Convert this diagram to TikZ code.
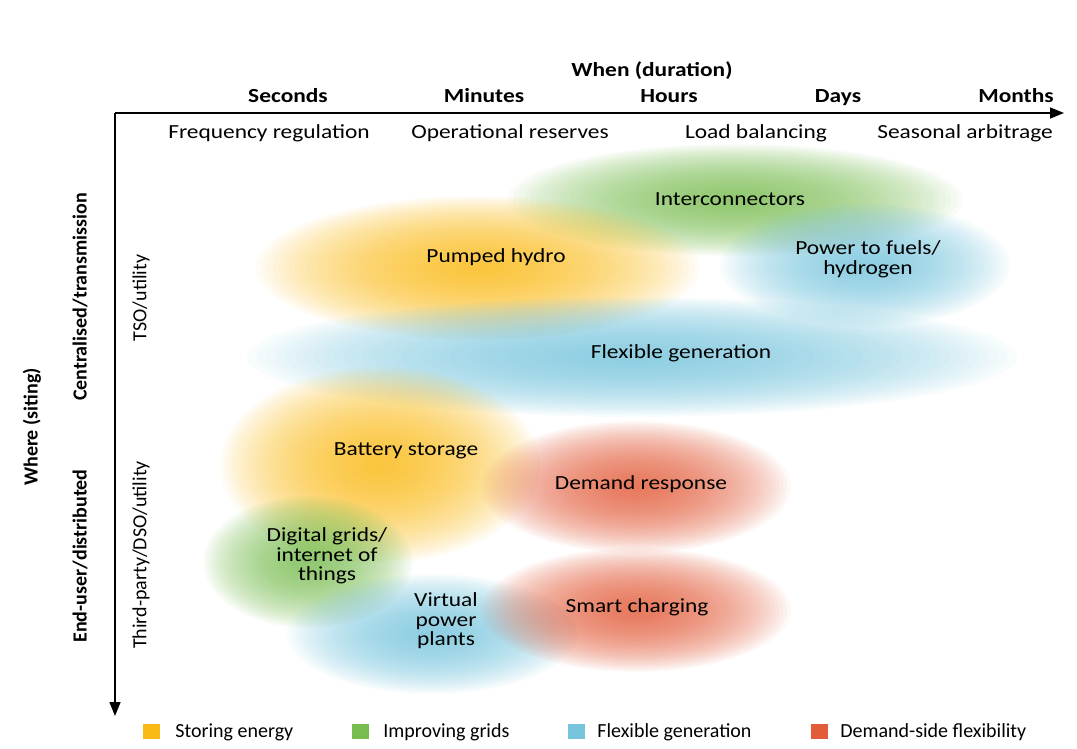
\documentclass[tikz,border=0pt]{standalone}
\usepackage{fontspec}
\setmainfont[FakeStretch=1.17]{Carlito}
\newfontfamily\plainf{Carlito}
\usetikzlibrary{arrows.meta}
\newcommand{\px}{0.5pt}

% soft blob: stack of faint ellipses, densest at the centre
\newcommand{\blob}[5]{%
  \foreach \k in {0,...,39}
    \fill[#1, opacity=0.042] (#2,#3) ellipse ({#4*(1-\k/40)} and {#5*(1-\k/40)});
}

\definecolor{storeC}{RGB}{250,185,20}
\definecolor{gridC}{RGB}{120,188,80}
\definecolor{flexC}{RGB}{118,196,220}
\definecolor{demandC}{RGB}{226,92,58}

\begin{document}
\begin{tikzpicture}[x=\px, y=-\px,
    lbl/.style={font=\fontsize{10}{9.8}\selectfont, align=center, inner sep=0pt},
    head/.style={font=\bfseries\fontsize{10}{12}\selectfont, anchor=base, inner sep=0pt},
    side/.style={font=\plainf\bfseries\fontsize{10}{12}\selectfont, rotate=90, inner sep=0pt},
    sub/.style={font=\plainf\fontsize{10}{12}\selectfont, rotate=90, inner sep=0pt},
    key/.style={font=\plainf\fontsize{10}{12}\selectfont, anchor=west, inner sep=0pt},
    axis/.style={line width=0.75pt, -{Triangle[length=7pt,width=5.5pt]}}]
    \useasboundingbox (0,0) rectangle (1077,749);

    % Blobs
    \blob{gridC}{735}{200}{228}{56}
    \blob{storeC}{478}{268}{222}{72}
    \blob{flexC}{865}{265}{145}{62}
    \blob{flexC}{632}{357}{385}{60}
    \blob{storeC}{380}{465}{160}{98}
    \blob{demandC}{636}{487}{155}{66}
    \blob{gridC}{308}{562}{105}{66}
    \blob{flexC}{432}{634}{145}{60}
    \blob{demandC}{636}{610}{155}{62}

    % Axes
    \coordinate (origin) at (115,113);
    \coordinate (xend) at (1064,113);
    \coordinate (yend) at (115,716);
    \draw[axis] (origin) -- (xend);
    \draw[axis] (origin) -- (yend);

    % When
    \node[head] (when) at (652,77) {When (duration)};
    \node[head] (t-1) at (288,102.5) {Seconds};
    \node[head] (t-2) at (484,102.5) {Minutes};
    \node[head] (t-3) at (669,102.5) {Hours};
    \node[head] (t-4) at (838,102.5) {Days};
    \node[head] (t-5) at (1016,102.5) {Months};

    \node[lbl] (use-1) at (269,133) {Frequency regulation};
    \node[lbl] (use-2) at (510,133) {Operational reserves};
    \node[lbl] (use-3) at (756,133) {Load balancing};
    \node[lbl] (use-4) at (965,133) {Seasonal arbitrage};

    % Where
    \node[side] (where) at (32,427) {Where (siting)};
    \node[side] (site-1) at (80,297) {Centralised/transmission};
    \node[side] (site-2) at (80,556) {End-user/distributed};
    \node[sub] (who-1) at (141,298) {TSO/utility};
    \node[sub] (who-2) at (141,555) {Third-party/DSO/utility};

    % Options
    \node[lbl] (inter) at (730,199) {Interconnectors};
    \node[lbl] (pumped) at (496,257) {Pumped hydro};
    \node[lbl] (fuels) at (868,259) {Power to fuels/\\hydrogen};
    \node[lbl] (flexgen) at (681,353) {Flexible generation};
    \node[lbl] (battery) at (406,451) {Battery storage};
    \node[lbl] (demand) at (641,484) {Demand response};
    \node[lbl] (digital) at (327,556) {Digital grids/\\internet of\\things};
    \node[lbl] (virtual) at (446,621) {Virtual\\power\\plants};
    \node[lbl] (smart) at (637,607) {Smart charging};

    % Legend
    \fill[storeC] (143,724) rectangle (160,739);
    \node[key] (key-1) at (175,732) {Storing energy};
    \fill[gridC] (352,724) rectangle (369,739);
    \node[key] (key-2) at (383,732) {Improving grids};
    \fill[flexC] (568,724) rectangle (585,739);
    \node[key] (key-3) at (597,732) {Flexible generation};
    \fill[demandC] (811,724) rectangle (828,739);
    \node[key] (key-4) at (840,732) {Demand-side flexibility};
\end{tikzpicture}
\end{document}
